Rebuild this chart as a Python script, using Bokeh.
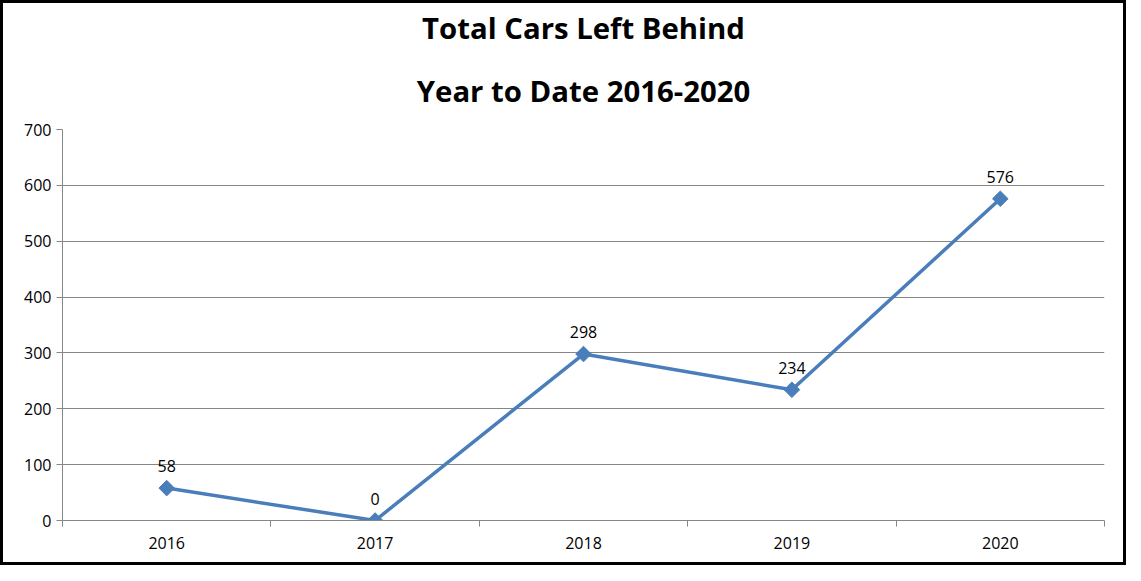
import numpy as np
from bokeh.plotting import figure
from bokeh.models import FixedTicker, Title, ColumnDataSource, LabelSet
from bokeh.core.properties import value
from bokeh.embed import file_html
from bokeh.resources import INLINE

years = ["2016", "2017", "2018", "2019", "2020"]
cars = [58, 0, 298, 234, 576]
xs = [1, 2, 3, 4, 5]

src = ColumnDataSource(dict(x=xs, y=cars, lbl=[str(v) for v in cars]))

p = figure(width=1126, height=565, x_range=(0.5, 5.5), y_range=(0, 700),
           output_backend="svg", toolbar_location=None,
           min_border_left=59, min_border_right=25, min_border_bottom=48, min_border_top=0)
p.outline_line_color = None
p.styles = {"border": "3px solid black", "box-sizing": "border-box"}

t2 = Title(text="Year to Date 2016-2020", align="center", text_font="Open Sans",
           text_font_size="22pt", text_font_style="bold", standoff=38, text_color="black")
t1 = Title(text="Total Cars Left Behind", align="center", text_font="Open Sans",
           text_font_size="22pt", text_font_style="bold", standoff=4, text_color="black")
p.title = None
p.add_layout(t2, "above")
p.add_layout(t1, "above")

p.line("x", "y", source=src, line_color="#4a7ebb", line_width=3.5)
p.scatter("x", "y", source=src, marker="square", angle=np.pi / 4, size=11, color="#4a7ebb")
p.add_layout(LabelSet(x="x", y="y", text="lbl", source=src, y_offset=16,
                      text_align="center", text_font=value("Open Sans"), text_font_size="12pt",
                      text_color="black"))

p.yaxis.ticker = FixedTicker(ticks=list(range(0, 701, 100)))
p.xaxis.ticker = FixedTicker(ticks=xs, minor_ticks=[0.5, 1.5, 2.5, 3.5, 4.5, 5.5])
p.xaxis.major_label_overrides = {x: y for x, y in zip(xs, years)}
p.xaxis.minor_tick_out = 6
p.xaxis.minor_tick_in = 0
p.xaxis.minor_tick_line_color = "#868686"
p.xaxis.major_tick_line_color = None
p.yaxis.minor_tick_line_color = None
p.yaxis.major_tick_in = 0
p.yaxis.major_tick_out = 6
p.yaxis.major_tick_line_color = "#868686"
for ax in (p.xaxis, p.yaxis):
    ax.axis_line_color = "#868686"
    ax.major_label_text_font = "Open Sans"
    ax.major_label_text_font_size = "12pt"
    ax.major_label_text_color = "black"
p.xaxis.major_label_standoff = 10
p.xgrid.grid_line_color = None
p.ygrid.grid_line_color = "#868686"

open("out.html", "w").write(file_html(p, INLINE))
